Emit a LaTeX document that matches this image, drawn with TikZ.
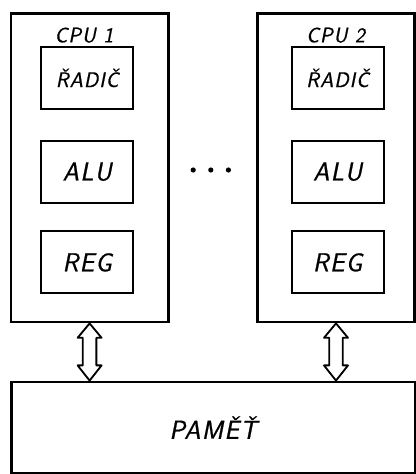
\documentclass[tikz,border=0pt]{standalone}
\usepackage{fontspec}
\newfontfamily\lettering{Latin Modern Sans}[FakeSlant=0.2,FakeBold=0.8,LetterSpace=5]
\usetikzlibrary{calc}

\begin{document}
\begin{tikzpicture}[x=1cm,y=1cm,
  font=\lettering,
  cpubox/.style={draw, rectangle, line width=2pt, minimum width=3.93cm, minimum height=7.72cm},
  unitbox/.style={draw, rectangle, line width=1.3pt, minimum width=2.3cm, minimum height=1.55cm, font=\lettering\fontsize{18.5}{20}\selectfont},
  smalltext/.style={font=\lettering\fontsize{15}{17}\selectfont},
  dot/.style={circle, fill, inner sep=0pt, minimum size=0.13cm},
  bus/.style={line width=1.3pt, line join=round}]
\useasboundingbox (0,0) rectangle (10.4,11.85);

\node[cpubox] (cpu1) at (2.24,7.66) {};
\node[cpubox] (cpu2) at (8.4,7.66) {};
\node[smalltext] (lab1) at (2.1,10.97) {CPU 1};
\node[smalltext] (lab2) at (8.39,10.97) {CPU 2};

\node[unitbox, smalltext] (rad1) at (2.18,9.9) {ŘADIČ};
\node[unitbox] (alu1) at (2.18,7.56) {ALU};
\node[unitbox] (reg1) at (2.18,5.29) {REG};
\node[unitbox, smalltext] (rad2) at (8.44,9.9) {ŘADIČ};
\node[unitbox] (alu2) at (8.44,7.56) {ALU};
\node[unitbox] (reg2) at (8.44,5.29) {REG};

\node[dot] (d1) at (4.83,7.6) {};
\node[dot] (d2) at (5.27,7.6) {};
\node[dot] (d3) at (5.71,7.6) {};

\node[draw, rectangle, line width=2pt, minimum width=10.1cm, minimum height=2.28cm,
  font=\lettering\fontsize{18.5}{20}\selectfont] (mem) at (5.33,1.16) {PAMĚŤ};

\foreach \c in {cpu1,cpu2}
  \draw[bus] (\c.south) -- ++(-0.3,-0.36) -- ++(0.13,0)
    -- ($(\c.south |- mem.north)+(-0.17,0.38)$) -- ++(-0.13,0)
    -- (\c.south |- mem.north) -- ++(0.3,0.38) -- ++(-0.13,0)
    -- ($(\c.south)+(0.17,-0.36)$) -- ++(0.13,0) -- cycle;
\end{tikzpicture}
\end{document}
